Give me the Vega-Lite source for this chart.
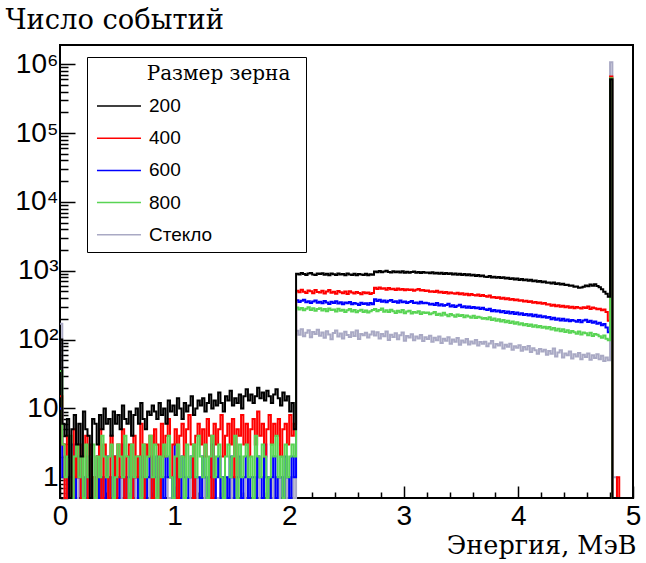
{
  "$schema": "https://vega.github.io/schema/vega-lite/v6.json",
  "width": 573,
  "height": 453,
  "autosize": {"type": "none"},
  "padding": {"left": 60, "top": 45, "right": 13, "bottom": 65},
  "background": "white",
  "config": {
    "view": {"stroke": "black", "strokeWidth": 2},
    "mark": {"invalid": "show"}
  },
  "data": {
    "values": [
      {"e":0,"a":100,"b":15,"c":10,"d":35,"s":170},
      {"e":0.02,"a":6,"b":3,"c":1,"d":3,"s":1},
      {"e":0.04,"a":4,"b":0,"c":2,"d":1,"s":0},
      {"e":0.06,"a":7,"b":4,"c":0,"d":2,"s":1},
      {"e":0.08,"a":0,"b":2,"c":1,"d":4,"s":1},
      {"e":0.10,"a":5,"b":0,"c":3,"d":0,"s":0},
      {"e":0.12,"a":8,"b":5,"c":0,"d":2,"s":1},
      {"e":0.14,"a":3,"b":1,"c":1,"d":3,"s":0},
      {"e":0.16,"a":6,"b":3,"c":2,"d":1,"s":1},
      {"e":0.18,"a":2,"b":0,"c":0,"d":2,"s":1},
      {"e":0.20,"a":9,"b":2,"c":1,"d":0,"s":0},
      {"e":0.22,"a":5,"b":4,"c":0,"d":3,"s":1},
      {"e":0.24,"a":4,"b":0,"c":2,"d":1,"s":0},
      {"e":0.26,"a":0,"b":3,"c":1,"d":2,"s":0},
      {"e":0.28,"a":7,"b":1,"c":0,"d":3,"s":1},
      {"e":0.30,"a":6,"b":0,"c":1,"d":0,"s":1},
      {"e":0.32,"a":3,"b":2,"c":2,"d":2,"s":0},
      {"e":0.34,"a":8,"b":5,"c":0,"d":1,"s":1},
      {"e":0.36,"a":5,"b":0,"c":1,"d":4,"s":0},
      {"e":0.38,"a":10,"b":3,"c":0,"d":2,"s":1},
      {"e":0.40,"a":6,"b":1,"c":2,"d":1,"s":1},
      {"e":0.42,"a":7,"b":0,"c":1,"d":2,"s":0},
      {"e":0.44,"a":4,"b":4,"c":0,"d":3,"s":1},
      {"e":0.46,"a":9,"b":2,"c":2,"d":0,"s":1},
      {"e":0.48,"a":6,"b":0,"c":1,"d":1,"s":0},
      {"e":0.50,"a":8,"b":3,"c":0,"d":3,"s":1},
      {"e":0.52,"a":5,"b":1,"c":1,"d":2,"s":0},
      {"e":0.54,"a":11,"b":5,"c":3,"d":1,"s":1},
      {"e":0.56,"a":7,"b":0,"c":0,"d":4,"s":1},
      {"e":0.58,"a":6,"b":2,"c":1,"d":2,"s":0},
      {"e":0.60,"a":9,"b":3,"c":2,"d":0,"s":1},
      {"e":0.62,"a":4,"b":0,"c":0,"d":3,"s":0},
      {"e":0.64,"a":8,"b":4,"c":1,"d":1,"s":1},
      {"e":0.66,"a":10,"b":1,"c":1,"d":2,"s":0},
      {"e":0.68,"a":6,"b":2,"c":0,"d":2,"s":1},
      {"e":0.70,"a":12,"b":6,"c":2,"d":0,"s":1},
      {"e":0.72,"a":7,"b":0,"c":1,"d":3,"s":0},
      {"e":0.74,"a":5,"b":3,"c":0,"d":1,"s":0},
      {"e":0.76,"a":9,"b":2,"c":1,"d":2,"s":1},
      {"e":0.78,"a":8,"b":4,"c":2,"d":4,"s":0},
      {"e":0.80,"a":11,"b":0,"c":0,"d":1,"s":1},
      {"e":0.82,"a":9,"b":5,"c":1,"d":3,"s":1},
      {"e":0.84,"a":7,"b":3,"c":2,"d":0,"s":0},
      {"e":0.86,"a":12,"b":0,"c":0,"d":2,"s":1},
      {"e":0.88,"a":8,"b":6,"c":1,"d":1,"s":0},
      {"e":0.90,"a":10,"b":2,"c":0,"d":3,"s":1},
      {"e":0.92,"a":6,"b":4,"c":2,"d":2,"s":1},
      {"e":0.94,"a":13,"b":7,"c":1,"d":4,"s":0},
      {"e":0.96,"a":9,"b":1,"c":1,"d":1,"s":0},
      {"e":0.98,"a":11,"b":3,"c":0,"d":0,"s":1},
      {"e":1.00,"a":8,"b":5,"c":3,"d":2,"s":0},
      {"e":1.02,"a":14,"b":0,"c":1,"d":3,"s":1},
      {"e":1.04,"a":10,"b":4,"c":0,"d":1,"s":1},
      {"e":1.06,"a":7,"b":6,"c":2,"d":2,"s":0},
      {"e":1.08,"a":12,"b":2,"c":1,"d":0,"s":1},
      {"e":1.10,"a":9,"b":5,"c":0,"d":3,"s":0},
      {"e":1.12,"a":11,"b":8,"c":1,"d":1,"s":0},
      {"e":1.14,"a":15,"b":3,"c":2,"d":2,"s":1},
      {"e":1.16,"a":8,"b":0,"c":0,"d":3,"s":1},
      {"e":1.18,"a":10,"b":4,"c":1,"d":1,"s":0},
      {"e":1.20,"a":13,"b":6,"c":1,"d":4,"s":1},
      {"e":1.22,"a":11,"b":3,"c":0,"d":2,"s":0},
      {"e":1.24,"a":14,"b":5,"c":2,"d":1,"s":1},
      {"e":1.26,"a":9,"b":2,"c":1,"d":3,"s":0},
      {"e":1.28,"a":12,"b":7,"c":0,"d":0,"s":1},
      {"e":1.30,"a":16,"b":4,"c":1,"d":2,"s":1},
      {"e":1.32,"a":10,"b":0,"c":3,"d":4,"s":0},
      {"e":1.34,"a":13,"b":6,"c":0,"d":1,"s":1},
      {"e":1.36,"a":11,"b":3,"c":1,"d":2,"s":0},
      {"e":1.38,"a":17,"b":5,"c":2,"d":3,"s":0},
      {"e":1.40,"a":12,"b":8,"c":0,"d":1,"s":1},
      {"e":1.42,"a":9,"b":2,"c":1,"d":0,"s":1},
      {"e":1.44,"a":15,"b":4,"c":1,"d":2,"s":0},
      {"e":1.46,"a":13,"b":6,"c":0,"d":3,"s":1},
      {"e":1.48,"a":18,"b":3,"c":2,"d":1,"s":0},
      {"e":1.50,"a":11,"b":7,"c":1,"d":2,"s":1},
      {"e":1.52,"a":14,"b":1,"c":0,"d":4,"s":0},
      {"e":1.54,"a":12,"b":5,"c":1,"d":0,"s":1},
      {"e":1.56,"a":16,"b":4,"c":2,"d":3,"s":1},
      {"e":1.58,"a":10,"b":8,"c":0,"d":1,"s":0},
      {"e":1.60,"a":15,"b":3,"c":1,"d":2,"s":0},
      {"e":1.62,"a":19,"b":6,"c":2,"d":3,"s":1},
      {"e":1.64,"a":13,"b":2,"c":0,"d":1,"s":0},
      {"e":1.66,"a":16,"b":5,"c":1,"d":2,"s":1},
      {"e":1.68,"a":12,"b":7,"c":1,"d":0,"s":1},
      {"e":1.70,"a":15,"b":3,"c":0,"d":4,"s":0},
      {"e":1.72,"a":20,"b":9,"c":2,"d":2,"s":1},
      {"e":1.74,"a":14,"b":4,"c":1,"d":1,"s":0},
      {"e":1.76,"a":17,"b":6,"c":0,"d":3,"s":0},
      {"e":1.78,"a":13,"b":2,"c":3,"d":2,"s":1},
      {"e":1.80,"a":18,"b":5,"c":1,"d":0,"s":1},
      {"e":1.82,"a":15,"b":8,"c":0,"d":1,"s":0},
      {"e":1.84,"a":12,"b":3,"c":1,"d":3,"s":1},
      {"e":1.86,"a":16,"b":6,"c":2,"d":2,"s":0},
      {"e":1.88,"a":19,"b":4,"c":0,"d":4,"s":1},
      {"e":1.90,"a":14,"b":7,"c":1,"d":1,"s":0},
      {"e":1.92,"a":11,"b":2,"c":1,"d":2,"s":1},
      {"e":1.94,"a":17,"b":5,"c":0,"d":0,"s":1},
      {"e":1.96,"a":13,"b":6,"c":2,"d":3,"s":0},
      {"e":1.98,"a":15,"b":3,"c":1,"d":1,"s":1},
      {"e":2.00,"a":9,"b":8,"c":0,"d":2,"s":0},
      {"e":2.02,"a":12,"b":4,"c":2,"d":3,"s":1},
      {"e":2.04,"a":5,"b":6,"c":1,"d":2,"s":0},
      {"e":2.06,"a":905,"b":512,"c":372,"d":292,"s":134},
      {"e":2.08,"a":878,"b":488,"c":351,"d":274,"s":118},
      {"e":2.10,"a":926,"b":530,"c":366,"d":288,"s":141},
      {"e":2.12,"a":897,"b":497,"c":380,"d":266,"s":112},
      {"e":2.14,"a":866,"b":476,"c":348,"d":281,"s":126},
      {"e":2.16,"a":911,"b":518,"c":361,"d":295,"s":137},
      {"e":2.18,"a":930,"b":503,"c":339,"d":270,"s":108},
      {"e":2.20,"a":885,"b":470,"c":357,"d":284,"s":129},
      {"e":2.22,"a":870,"b":525,"c":369,"d":262,"s":121},
      {"e":2.24,"a":912,"b":492,"c":344,"d":279,"s":139},
      {"e":2.26,"a":893,"b":481,"c":355,"d":286,"s":114},
      {"e":2.28,"a":921,"b":510,"c":336,"d":265,"s":127},
      {"e":2.30,"a":874,"b":466,"c":362,"d":277,"s":106},
      {"e":2.32,"a":903,"b":499,"c":347,"d":258,"s":132},
      {"e":2.34,"a":862,"b":523,"c":330,"d":283,"s":119},
      {"e":2.36,"a":915,"b":478,"c":353,"d":269,"s":101},
      {"e":2.38,"a":889,"b":494,"c":341,"d":274,"s":125},
      {"e":2.40,"a":868,"b":463,"c":359,"d":255,"s":136},
      {"e":2.42,"a":909,"b":507,"c":334,"d":280,"s":111},
      {"e":2.44,"a":884,"b":485,"c":348,"d":263,"s":123},
      {"e":2.46,"a":899,"b":471,"c":327,"d":271,"s":104},
      {"e":2.48,"a":861,"b":498,"c":345,"d":252,"s":130},
      {"e":2.50,"a":912,"b":459,"c":338,"d":266,"s":117},
      {"e":2.52,"a":883,"b":502,"c":351,"d":278,"s":109},
      {"e":2.54,"a":867,"b":484,"c":325,"d":256,"s":128},
      {"e":2.56,"a":901,"b":466,"c":340,"d":268,"s":113},
      {"e":2.58,"a":859,"b":491,"c":332,"d":249,"s":135},
      {"e":2.60,"a":894,"b":475,"c":318,"d":262,"s":102},
      {"e":2.62,"a":880,"b":455,"c":343,"d":271,"s":121},
      {"e":2.64,"a":866,"b":488,"c":329,"d":251,"s":116},
      {"e":2.66,"a":902,"b":470,"c":336,"d":264,"s":126},
      {"e":2.68,"a":857,"b":483,"c":321,"d":247,"s":107},
      {"e":2.70,"a":889,"b":458,"c":340,"d":259,"s":119},
      {"e":2.72,"a":871,"b":476,"c":326,"d":268,"s":131},
      {"e":2.74,"a":975,"b":565,"c":385,"d":278,"s":115},
      {"e":2.76,"a":952,"b":541,"c":362,"d":259,"s":128},
      {"e":2.78,"a":990,"b":572,"c":378,"d":270,"s":104},
      {"e":2.80,"a":948,"b":548,"c":355,"d":283,"s":121},
      {"e":2.82,"a":971,"b":556,"c":371,"d":254,"s":112},
      {"e":2.84,"a":996,"b":530,"c":349,"d":266,"s":131},
      {"e":2.86,"a":958,"b":561,"c":366,"d":251,"s":99},
      {"e":2.88,"a":945,"b":538,"c":376,"d":272,"s":118},
      {"e":2.90,"a":980,"b":549,"c":351,"d":258,"s":109},
      {"e":2.92,"a":953,"b":524,"c":360,"d":244,"s":124},
      {"e":2.94,"a":974,"b":552,"c":343,"d":263,"s":101},
      {"e":2.96,"a":940,"b":531,"c":369,"d":250,"s":116},
      {"e":2.98,"a":979,"b":544,"c":348,"d":268,"s":127},
      {"e":3.00,"a":938,"b":519,"c":357,"d":241,"s":96},
      {"e":3.02,"a":967,"b":540,"c":339,"d":255,"s":113},
      {"e":3.04,"a":931,"b":527,"c":352,"d":262,"s":107},
      {"e":3.06,"a":962,"b":535,"c":362,"d":239,"s":120},
      {"e":3.08,"a":975,"b":512,"c":341,"d":251,"s":98},
      {"e":3.10,"a":936,"b":529,"c":347,"d":246,"s":111},
      {"e":3.12,"a":958,"b":541,"c":333,"d":258,"s":104},
      {"e":3.14,"a":929,"b":515,"c":355,"d":236,"s":117},
      {"e":3.16,"a":961,"b":523,"c":336,"d":249,"s":95},
      {"e":3.18,"a":937,"b":507,"c":344,"d":243,"s":108},
      {"e":3.20,"a":944,"b":518,"c":338,"d":247,"s":102},
      {"e":3.22,"a":918,"b":496,"c":322,"d":233,"s":114},
      {"e":3.24,"a":950,"b":505,"c":331,"d":241,"s":93},
      {"e":3.26,"a":909,"b":489,"c":317,"d":252,"s":106},
      {"e":3.28,"a":936,"b":511,"c":340,"d":228,"s":98},
      {"e":3.30,"a":905,"b":482,"c":312,"d":238,"s":111},
      {"e":3.32,"a":934,"b":497,"c":326,"d":224,"s":89},
      {"e":3.34,"a":899,"b":475,"c":309,"d":245,"s":103},
      {"e":3.36,"a":927,"b":490,"c":319,"d":230,"s":96},
      {"e":3.38,"a":896,"b":468,"c":331,"d":219,"s":108},
      {"e":3.40,"a":919,"b":484,"c":303,"d":235,"s":87},
      {"e":3.42,"a":884,"b":471,"c":314,"d":226,"s":100},
      {"e":3.44,"a":908,"b":462,"c":298,"d":214,"s":93},
      {"e":3.46,"a":877,"b":479,"c":311,"d":231,"s":105},
      {"e":3.48,"a":901,"b":455,"c":320,"d":220,"s":84},
      {"e":3.50,"a":868,"b":470,"c":296,"d":227,"s":97},
      {"e":3.52,"a":894,"b":449,"c":305,"d":211,"s":91},
      {"e":3.54,"a":860,"b":463,"c":291,"d":223,"s":102},
      {"e":3.56,"a":886,"b":441,"c":302,"d":216,"s":85},
      {"e":3.58,"a":852,"b":458,"c":288,"d":208,"s":94},
      {"e":3.60,"a":876,"b":446,"c":297,"d":221,"s":88},
      {"e":3.62,"a":839,"b":437,"c":284,"d":205,"s":99},
      {"e":3.64,"a":864,"b":452,"c":293,"d":214,"s":82},
      {"e":3.66,"a":832,"b":431,"c":279,"d":209,"s":92},
      {"e":3.68,"a":853,"b":444,"c":289,"d":201,"s":87},
      {"e":3.70,"a":820,"b":428,"c":275,"d":206,"s":93},
      {"e":3.72,"a":810,"b":419,"c":268,"d":198,"s":80},
      {"e":3.74,"a":840,"b":436,"c":281,"d":211,"s":88},
      {"e":3.76,"a":797,"b":408,"c":259,"d":193,"s":95},
      {"e":3.78,"a":819,"b":417,"c":270,"d":202,"s":77},
      {"e":3.80,"a":788,"b":401,"c":255,"d":188,"s":86},
      {"e":3.82,"a":813,"b":412,"c":264,"d":197,"s":82},
      {"e":3.84,"a":781,"b":393,"c":249,"d":183,"s":91},
      {"e":3.86,"a":805,"b":405,"c":261,"d":192,"s":74},
      {"e":3.88,"a":772,"b":385,"c":244,"d":179,"s":84},
      {"e":3.90,"a":794,"b":397,"c":256,"d":187,"s":79},
      {"e":3.92,"a":757,"b":379,"c":240,"d":174,"s":87},
      {"e":3.94,"a":780,"b":388,"c":251,"d":183,"s":71},
      {"e":3.96,"a":748,"b":372,"c":236,"d":170,"s":80},
      {"e":3.98,"a":769,"b":381,"c":247,"d":178,"s":76},
      {"e":4.00,"a":736,"b":365,"c":231,"d":166,"s":83},
      {"e":4.02,"a":756,"b":374,"c":242,"d":173,"s":69},
      {"e":4.04,"a":727,"b":356,"c":228,"d":162,"s":78},
      {"e":4.06,"a":748,"b":366,"c":236,"d":169,"s":72},
      {"e":4.08,"a":716,"b":351,"c":223,"d":158,"s":81},
      {"e":4.10,"a":737,"b":359,"c":233,"d":165,"s":66},
      {"e":4.12,"a":704,"b":344,"c":219,"d":154,"s":75},
      {"e":4.14,"a":724,"b":352,"c":229,"d":161,"s":70},
      {"e":4.16,"a":692,"b":338,"c":215,"d":151,"s":62},
      {"e":4.18,"a":712,"b":346,"c":224,"d":157,"s":73},
      {"e":4.20,"a":681,"b":331,"c":211,"d":148,"s":67},
      {"e":4.22,"a":700,"b":339,"c":219,"d":154,"s":71},
      {"e":4.24,"a":670,"b":324,"c":207,"d":145,"s":60},
      {"e":4.26,"a":676,"b":327,"c":212,"d":152,"s":68},
      {"e":4.28,"a":652,"b":311,"c":198,"d":140,"s":62},
      {"e":4.30,"a":673,"b":320,"c":207,"d":147,"s":74},
      {"e":4.32,"a":640,"b":305,"c":194,"d":136,"s":57},
      {"e":4.34,"a":660,"b":316,"c":203,"d":144,"s":65},
      {"e":4.36,"a":629,"b":299,"c":190,"d":132,"s":70},
      {"e":4.38,"a":647,"b":310,"c":200,"d":141,"s":55},
      {"e":4.40,"a":620,"b":294,"c":187,"d":129,"s":63},
      {"e":4.42,"a":626,"b":306,"c":196,"d":137,"s":59},
      {"e":4.44,"a":603,"b":289,"c":184,"d":126,"s":67},
      {"e":4.46,"a":608,"b":301,"c":193,"d":133,"s":53},
      {"e":4.48,"a":584,"b":286,"c":188,"d":128,"s":61},
      {"e":4.50,"a":590,"b":297,"c":181,"d":122,"s":57},
      {"e":4.52,"a":566,"b":291,"c":192,"d":131,"s":64},
      {"e":4.54,"a":572,"b":283,"c":179,"d":119,"s":52},
      {"e":4.56,"a":583,"b":296,"c":189,"d":127,"s":60},
      {"e":4.58,"a":609,"b":288,"c":194,"d":124,"s":56},
      {"e":4.60,"a":596,"b":302,"c":180,"d":116,"s":63},
      {"e":4.62,"a":632,"b":279,"c":187,"d":126,"s":51},
      {"e":4.64,"a":607,"b":293,"c":176,"d":113,"s":59},
      {"e":4.66,"a":638,"b":284,"c":183,"d":121,"s":54},
      {"e":4.68,"a":601,"b":276,"c":170,"d":118,"s":61},
      {"e":4.70,"a":574,"b":281,"c":175,"d":112,"s":52},
      {"e":4.72,"a":538,"b":266,"c":162,"d":106,"s":58},
      {"e":4.74,"a":497,"b":274,"c":168,"d":115,"s":49},
      {"e":4.76,"a":462,"b":252,"c":150,"d":103,"s":55},
      {"e":4.78,"a":418,"b":188,"c":128,"d":98,"s":50},
      {"e":4.80,"a":606000,"b":660000,"c":600000,"d":627000,"s":1070000},
      {"e":4.82,"a":0,"b":0,"c":0,"d":0,"s":1},
      {"e":4.84,"a":0,"b":0,"c":0,"d":0,"s":1},
      {"e":4.86,"a":0,"b":1,"c":0,"d":0,"s":0},
      {"e":4.88,"a":0,"b":0,"c":0,"d":0,"s":0},
      {"e":5.00,"a":0,"b":0,"c":0,"d":0,"s":0}
    ]
  },
  "transform": [
    {"fold": ["s", "c", "b", "d", "a"], "as": ["series", "n"]}
  ],
  "mark": {"type": "line", "interpolate": "step-after", "strokeWidth": 2},
  "encoding": {
    "x": {
      "field": "e",
      "type": "quantitative",
      "scale": {"domain": [0, 5], "nice": false, "zero": false},
      "axis": {
        "values": [0, 0.2, 0.4, 0.6, 0.8, 1, 1.2, 1.4, 1.6, 1.8, 2, 2.2, 2.4, 2.6, 2.8, 3, 3.2, 3.4, 3.6, 3.8, 4, 4.2, 4.4, 4.6, 4.8, 5],
        "domain": false,
        "grid": false,
        "tickColor": "black",
        "tickWidth": 1.5,
        "tickSize": {"condition": {"test": "datum.value % 1 == 0", "value": -12}, "value": -6},
        "labelExpr": "datum.value % 1 == 0 ? format(datum.value, 'd') : ''",
        "labelFont": "Liberation Sans",
        "labelFontSize": 28,
        "labelColor": "black",
        "labelPadding": 16,
        "labelFlush": false,
        "labelOverlap": false,
        "title": "Энергия, МэВ",
        "titleFont": "DejaVu Serif",
        "titleFontSize": 25.5,
        "titleFontWeight": "normal",
        "titleColor": "black",
        "titleAlign": "right",
        "titleBaseline": "alphabetic",
        "titleX": 576,
        "titleY": 55
      }
    },
    "y": {
      "field": "n",
      "type": "quantitative",
      "scale": {"type": "log", "domain": [0.5, 1900000], "nice": false, "clamp": true},
      "axis": {
        "values": [0.5, 0.6, 0.7, 0.8, 0.9, 1, 2, 3, 4, 5, 6, 7, 8, 9, 10, 20, 30, 40, 50, 60, 70, 80, 90, 100, 200, 300, 400, 500, 600, 700, 800, 900, 1000, 2000, 3000, 4000, 5000, 6000, 7000, 8000, 9000, 10000, 20000, 30000, 40000, 50000, 60000, 70000, 80000, 90000, 100000, 200000, 300000, 400000, 500000, 600000, 700000, 800000, 900000, 1000000],
        "domain": false,
        "grid": false,
        "tickColor": "black",
        "tickWidth": 1.5,
        "tickSize": {"condition": {"test": "indexof([1, 10, 100, 1000, 10000, 100000, 1000000], datum.value) >= 0", "value": -15}, "value": -8},
        "labelExpr": "datum.value == 1 ? '1' : datum.value == 10 ? '10' : datum.value == 100 ? '10²' : datum.value == 1000 ? '10³' : datum.value == 10000 ? '10⁴' : datum.value == 100000 ? '10⁵' : datum.value == 1000000 ? '10⁶' : ''",
        "labelFont": "Liberation Sans",
        "labelFontSize": 28,
        "labelColor": "black",
        "labelPadding": 17,
        "labelOverlap": false,
        "title": "Число событий",
        "titleFont": "DejaVu Serif",
        "titleFontSize": 27.3,
        "titleFontWeight": "normal",
        "titleColor": "black",
        "titleAngle": 0,
        "titleAlign": "left",
        "titleBaseline": "alphabetic",
        "titleX": -55,
        "titleY": -17
      }
    },
    "color": {
      "field": "series",
      "type": "nominal",
      "scale": {"domain": ["a", "b", "c", "d", "s"], "range": ["#000000", "#ff0000", "#0000ff", "#59d454", "#a9a9c4"]},
      "legend": {
        "orient": "none",
        "legendX": 27,
        "legendY": 12,
        "title": "\u200b\u2003\u2003\u2007Размер зерна\u2009\u2009\u200b",
        "titleFont": "DejaVu Serif",
        "titleFontSize": 20,
        "titleFontWeight": "normal",
        "titleColor": "black",
        "titleLimit": 400,
        "titlePadding": 10,
        "labelExpr": "datum.value == 'a' ? '200' : datum.value == 'b' ? '400' : datum.value == 'c' ? '600' : datum.value == 'd' ? '800' : 'Стекло'",
        "labelFont": "Liberation Sans",
        "labelFontSize": 19,
        "labelColor": "black",
        "labelOffset": 31,
        "symbolType": "M-0.82,0H3.18",
        "symbolSize": 484,
        "symbolStrokeWidth": 1.5,
        "rowPadding": 10.2,
        "padding": 7,
        "strokeColor": "black",
        "fillColor": "white"
      }
    }
  }
}
